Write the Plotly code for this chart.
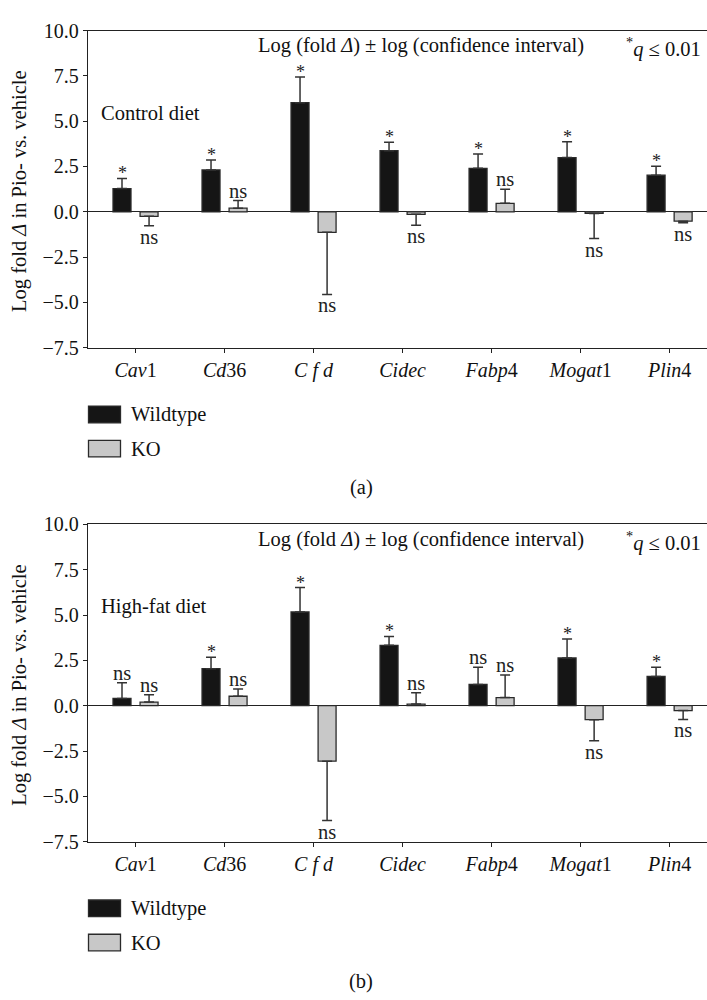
import plotly.graph_objects as go

# ---------------- data ----------------
categories = ["Cav1", "Cd36", "Cfd", "Cidec", "Fabp4", "Mogat1", "Plin4"]
tick_labels = ["<i>Cav</i>1", "<i>Cd</i>36", "<i>C f d</i>", "<i>Cidec</i>",
               "<i>Fabp</i>4", "<i>Mogat</i>1", "<i>Plin</i>4"]
y_tickvals = [10.0, 7.5, 5.0, 2.5, 0.0, -2.5, -5.0, -7.5]
y_ticktext = ["10.0", "7.5", "5.0", "2.5", "0.0", "\u22122.5", "\u22125.0", "\u22127.5"]

# Panel (a) control diet
wt_a = [1.28, 2.31, 6.02, 3.37, 2.40, 2.99, 2.02]
wt_a_ci = [0.56, 0.55, 1.42, 0.47, 0.79, 0.87, 0.50]
ko_a = [-0.25, 0.20, -1.13, -0.14, 0.47, -0.09, -0.52]
ko_a_ci = [0.52, 0.42, 3.43, 0.60, 0.77, 1.39, 0.09]
wt_a_sig = ["*", "*", "*", "*", "*", "*", "*"]
ko_a_sig = ["ns", "ns", "ns", "ns", "ns", "ns", "ns"]

# Panel (b) high-fat diet
wt_b = [0.40, 2.04, 5.17, 3.33, 1.17, 2.63, 1.61]
wt_b_ci = [0.86, 0.63, 1.35, 0.49, 0.95, 1.05, 0.51]
ko_b = [0.20, 0.52, -3.06, 0.09, 0.45, -0.77, -0.27]
ko_b_ci = [0.41, 0.40, 3.28, 0.63, 1.24, 1.16, 0.49]
wt_b_sig = ["ns", "*", "*", "*", "ns", "*", "*"]
ko_b_sig = ["ns", "ns", "ns", "ns", "ns", "ns", "ns"]

panel_titles = ["Control diet", "High-fat diet"]
panel_letters = ["(a)", "(b)"]
series_names = ["Wildtype", "KO"]

# ---------------- style ----------------
W, H = 707, 1000
FONT = "Liberation Serif"
FS = 20.5
TFS = 20
WT_COLOR = "#151515"
KO_COLOR = "#c8c8c8"
EDGE = "#2a2a2a"
DY = 505  # vertical offset of panel (b)


def px(x):
    return x / W


def py(y):
    return 1 - y / H


fig = go.Figure()
annotations = []
shapes = []

panels = [
    (wt_a, wt_a_ci, ko_a, ko_a_ci, wt_a_sig, ko_a_sig),
    (wt_b, wt_b_ci, ko_b, ko_b_ci, wt_b_sig, ko_b_sig),
]

for p, (wt, wt_ci, ko, ko_ci, wt_sig, ko_sig) in enumerate(panels):
    xa = "x" if p == 0 else "x2"
    ya = "y" if p == 0 else "y2"
    off = p * DY
    for vals, ci, color, name, offset, sig, shift in [
        (wt, wt_ci, WT_COLOR, series_names[0], -0.253, wt_sig, -13.5),
        (ko, ko_ci, KO_COLOR, series_names[1], 0.051, ko_sig, 13.5),
    ]:
        plus = [c if v >= 0 else 0 for v, c in zip(vals, ci)]
        minus = [c if v < 0 else 0 for v, c in zip(vals, ci)]
        fig.add_trace(go.Bar(
            x=categories, y=vals, name=name, xaxis=xa, yaxis=ya,
            width=0.202, offset=offset,
            marker=dict(color=color, line=dict(color=EDGE, width=1.3)),
            error_y=dict(type="data", symmetric=False, array=plus, arrayminus=minus,
                         color="#333333", thickness=1.5, width=5),
            showlegend=False,
        ))
        for cat, v, c, s in zip(categories, vals, ci, sig):
            if v >= 0:
                annotations.append(dict(
                    x=cat, y=v + c, xref=xa, yref=ya, text=s, showarrow=False,
                    xshift=shift, yanchor="bottom",
                    yshift=(-7 if s == "*" else -3),
                    font=dict(family=FONT, size=(18 if s == "*" else FS), color="#222"),
                ))
            else:
                annotations.append(dict(
                    x=cat, y=v - c, xref=xa, yref=ya, text=s, showarrow=False,
                    xshift=shift, yanchor="top", yshift=2,
                    font=dict(family=FONT, size=FS, color="#222"),
                ))

    # header texts
    annotations.append(dict(
        x=px(421), y=py(35 + off), xref="paper", yref="paper",
        text="Log (fold <i>\u0394</i>) \u00b1 log (confidence interval)",
        showarrow=False, xanchor="center", yanchor="middle",
        font=dict(family=FONT, size=FS, color="#111")))
    annotations.append(dict(
        x=px(703), y=py(37 + off), xref="paper", yref="paper",
        text="<sup>*</sup><i>q</i> \u2264 0.01",
        showarrow=False, xanchor="right", yanchor="middle",
        font=dict(family=FONT, size=FS, color="#111")))
    annotations.append(dict(
        x=px(99), y=py(104 + off), xref="paper", yref="paper",
        text=panel_titles[p], showarrow=False, xanchor="left", yanchor="middle",
        font=dict(family=FONT, size=FS, color="#111")))
    # y-axis title
    annotations.append(dict(
        x=px(20), y=py(184 + off), xref="paper", yref="paper",
        text="Log fold <i>\u0394</i> in Pio- vs. vehicle", textangle=-90,
        showarrow=False, xanchor="center", yanchor="middle",
        font=dict(family=FONT, size=FS, color="#111")))
    # legend
    for i, (name, color) in enumerate(zip(series_names, [WT_COLOR, KO_COLOR])):
        top = 404 + off + i * 35
        shapes.append(dict(
            type="rect", xref="paper", yref="paper",
            x0=px(88.5), x1=px(120.5), y0=py(top), y1=py(top + 17),
            fillcolor=color, line=dict(color=EDGE, width=1.3)))
        annotations.append(dict(
            x=px(129), y=py(top + 9), xref="paper", yref="paper",
            text=name, showarrow=False, xanchor="left", yanchor="middle",
            font=dict(family=FONT, size=FS, color="#111")))
    annotations.append(dict(
        x=px(361), y=py(487 + off), xref="paper", yref="paper",
        text=panel_letters[p], showarrow=False, xanchor="center", yanchor="middle",
        font=dict(family=FONT, size=FS, color="#111")))

axis_common_x = dict(
    type="category", categoryorder="array", categoryarray=categories,
    range=[-0.534, 6.42], tickvals=categories, ticktext=tick_labels,
    showline=True, linecolor="#222", linewidth=1.3, mirror=True,
    ticks="outside", ticklen=4, tickcolor="#222", tickwidth=1.2,
    showgrid=False, zeroline=False,
    tickfont=dict(family=FONT, size=TFS, color="#111"),
)
axis_common_y = dict(
    range=[-7.5, 10], tickvals=y_tickvals, ticktext=y_ticktext,
    showline=True, linecolor="#222", linewidth=1.3,
    ticks="outside", ticklen=4, tickcolor="#222", tickwidth=1.2,
    showgrid=False, zeroline=True, zerolinecolor="#222", zerolinewidth=1.3,
    tickfont=dict(family=FONT, size=TFS, color="#111"),
)

fig.update_layout(
    width=W, height=H,
    margin=dict(l=0, r=0, t=0, b=0),
    paper_bgcolor="white", plot_bgcolor="white",
    barmode="overlay",
    showlegend=False,
    xaxis=dict(axis_common_x, domain=[px(88), 1.0], anchor="y"),
    yaxis=dict(axis_common_y, domain=[py(344.3), py(20)], anchor="x"),
    xaxis2=dict(axis_common_x, domain=[px(88), 1.0], anchor="y2"),
    yaxis2=dict(axis_common_y, domain=[py(849.3), py(525)], anchor="x2"),
    annotations=annotations,
    shapes=shapes,
)

fig.write_html("out.html",
               config={"displayModeBar": False},
               post_script="document.body.style.margin='0';document.body.style.overflow='hidden';")
